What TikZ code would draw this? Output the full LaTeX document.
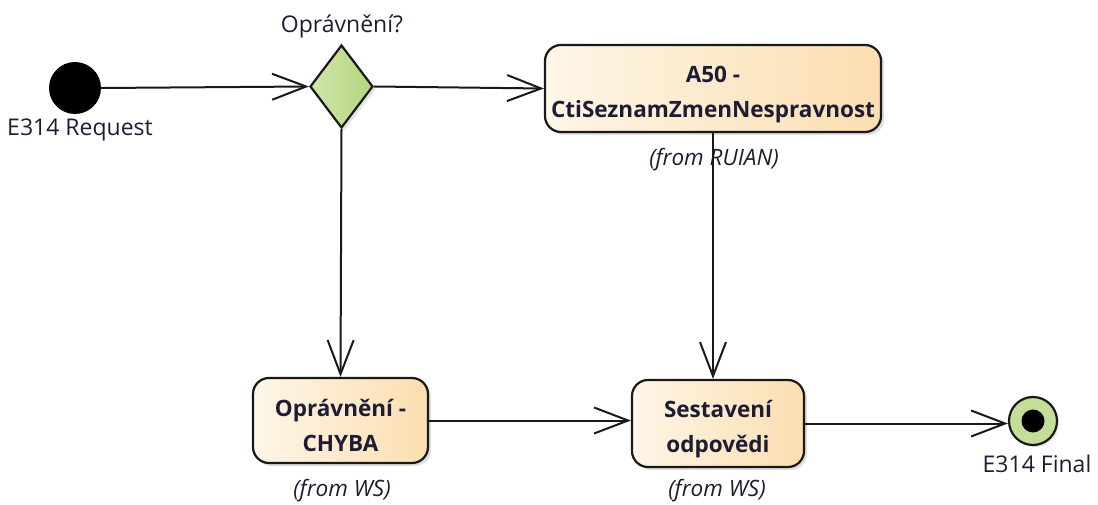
\documentclass[tikz,border=0pt]{standalone}
\usepackage{fontspec}
\setmainfont{Open Sans}
\usetikzlibrary{shapes.geometric,arrows.meta,shadows}
\definecolor{txt}{RGB}{28,28,52}
\definecolor{boxL}{RGB}{254,246,232}
\definecolor{boxR}{RGB}{251,222,176}
\definecolor{dmL}{RGB}{208,230,170}
\definecolor{dmR}{RGB}{180,214,126}
\definecolor{finG}{RGB}{196,222,152}
\definecolor{edge}{RGB}{25,25,25}
\newcommand{\topgap}{\rule{0pt}{28pt}}
\tikzset{
  act/.style={rectangle, rounded corners=16pt, draw=edge, line width=2.2pt,
    left color=boxL, right color=boxR, align=center, font=\fontsize{22.5}{35}\selectfont\bfseries,
    text=txt, inner sep=0pt, drop shadow={shadow xshift=3pt, shadow yshift=-3pt, opacity=0.25}},
  lbl/.style={font=\fontsize{23}{26}\selectfont, text=txt, inner sep=0pt},
  from/.style={font=\fontsize{22.5}{26}\selectfont\itshape, text=txt, inner sep=0pt},
  flow/.style={draw=edge, line width=2pt, -{Straight Barb[length=34pt,width=26pt,line width=2pt]}},
}
\begin{document}
\begin{tikzpicture}[x=1pt,y=-1pt]
\useasboundingbox (0,0) rectangle (1098,505);
\node[circle, fill=black, minimum size=52pt, inner sep=0pt] (start) at (75,88) {};
\node[lbl] (reqlbl) at (80,130) {E314 Request};
\node[diamond, draw=edge, line width=2.2pt, left color=dmL, right color=dmR,
  minimum width=63pt, minimum height=83pt, inner sep=0pt,
  drop shadow={shadow xshift=3pt, shadow yshift=-3pt, opacity=0.2}] (dec) at (341.5,86.5) {};
\node[lbl] (declbl) at (342,26) {Oprávnění?};
\node[act, minimum width=336pt, minimum height=87pt] (a50) at (713,88.5) {\topgap A50 -\\CtiSeznamZmenNespravnost};
\node[act, minimum width=175pt, minimum height=85pt] (chyba) at (340.5,420.5) {\topgap Oprávnění -\\CHYBA};
\node[act, minimum width=172pt, minimum height=87pt] (ses) at (718,423.5) {\topgap Sestavení\\odpovědi};
\node[circle, draw=edge, line width=2.2pt, fill=finG, minimum size=48pt, inner sep=0pt,
  drop shadow={shadow xshift=2pt, shadow yshift=-2pt, opacity=0.2}] (fin) at (1033,421) {};
\node[circle, fill=black, minimum size=23pt, inner sep=0pt] (findot) at (fin.center) {};
\node[lbl] (finlbl) at (1037,464) {E314 Final};
\draw[flow] (start.east) -- (dec.west);
\draw[flow] (dec.east) -- (a50.west);
\draw[flow] (dec.south) -- (chyba.north);
\draw[flow] (chyba.east) -- (chyba.east -| ses.west);
\draw[flow] (ses.east) -- (ses.east -| fin.west);
\node[from] (fromR) at (714,160) {(from RUIAN)};
\node[from] (fromW1) at (342,491) {(from WS)};
\node[from] (fromW2) at (717,491) {(from WS)};
\draw[flow] (a50.south) -- (a50.south |- ses.north);
\end{tikzpicture}
\end{document}
